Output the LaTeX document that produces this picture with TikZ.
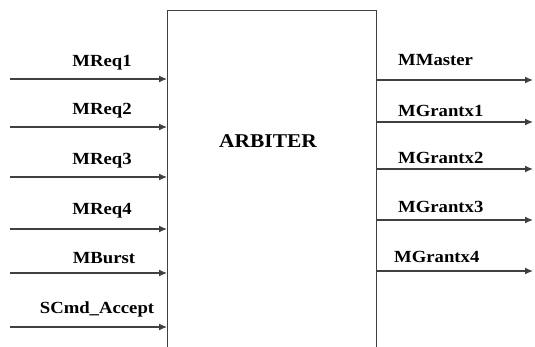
\documentclass[tikz,border=0pt]{standalone}
\usepackage{fontspec}
\setmainfont{Liberation Serif}[FakeStretch=1.1]
\usetikzlibrary{arrows.meta}

\tikzset{
    sig/.style={draw=black!75, line width=1.2pt, -{Latex[length=8pt,width=7pt]}},
    lbl/.style={font=\fontsize{17}{20}\selectfont\bfseries, inner sep=0pt},
}

\begin{document}
\begin{tikzpicture}[x=1pt, y=-1pt]
    \useasboundingbox (0,0) rectangle (535,347);
    \clip (0,0) rectangle (535,347);

    \node[draw=black!75, line width=1.2pt, anchor=north west, inner sep=0pt,
          minimum width=209pt, minimum height=360pt] (arb) at (167,10) {};
    \node[font=\fontsize{19.5}{22}\selectfont\bfseries, inner sep=0pt, anchor=base] (arbtxt) at (268,148) {ARBITER};

    % inputs
    \foreach \n/\y/\lx/\ly/\txt in {1/79/102/67/MReq1, 2/127/102/115/MReq2, 3/177/102/165/MReq3,
                                    4/229/102/215/MReq4, 5/273/104/263/MBurst, 6/327/97/313/SCmd\_Accept}{
        \coordinate (in\n) at (10,\y);
        \draw[sig] (in\n) -- (in\n -| arb.west);
        \node[lbl, anchor=base] (inlbl\n) at (\lx,\ly) {\txt};
    }

    % outputs
    \foreach \n/\y/\lx/\ly/\txt in {0/80/398/66/MMaster, 1/122/398/117/MGrantx1, 2/169/398/164/MGrantx2,
                                    3/220/398/213/MGrantx3, 4/271/394/262/MGrantx4}{
        \coordinate (out\n) at (533,\y);
        \draw[sig] (out\n -| arb.east) -- (out\n);
        \node[lbl, anchor=base west] (outlbl\n) at (\lx,\ly) {\txt};
    }

\end{tikzpicture}
\end{document}
